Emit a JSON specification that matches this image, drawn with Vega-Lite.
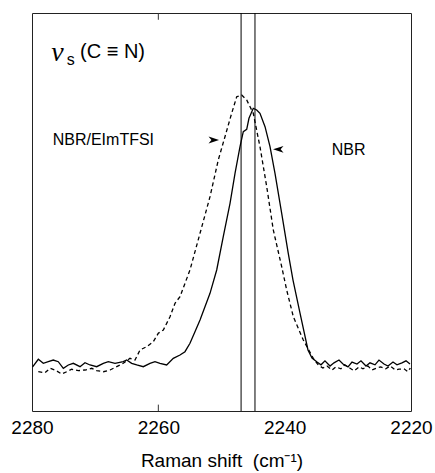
{
  "$schema": "https://vega.github.io/schema/vega-lite/v6.json",
  "width": 379,
  "height": 398,
  "autosize": {"type": "none"},
  "padding": {"left": 32, "top": 13, "right": 24, "bottom": 62},
  "config": {
    "view": {"stroke": "#222", "strokeWidth": 1},
    "font": "Liberation Sans",
    "text": {"font": "Liberation Sans", "color": "#000"}
  },
  "datasets": {
    "spectra": [
      {"v": 2279.9, "I": 11.1, "s": "NBR"},
      {"v": 2279.0, "I": 12.99, "s": "NBR"},
      {"v": 2278.21, "I": 11.98, "s": "NBR"},
      {"v": 2277.42, "I": 12.39, "s": "NBR"},
      {"v": 2276.63, "I": 12.81, "s": "NBR"},
      {"v": 2275.84, "I": 12.39, "s": "NBR"},
      {"v": 2275.04, "I": 10.73, "s": "NBR"},
      {"v": 2274.25, "I": 11.56, "s": "NBR"},
      {"v": 2273.46, "I": 11.98, "s": "NBR"},
      {"v": 2272.40, "I": 11.13, "s": "NBR"},
      {"v": 2271.61, "I": 12.14, "s": "NBR"},
      {"v": 2270.82, "I": 11.56, "s": "NBR"},
      {"v": 2269.76, "I": 11.13, "s": "NBR"},
      {"v": 2268.71, "I": 11.98, "s": "NBR"},
      {"v": 2267.92, "I": 12.39, "s": "NBR"},
      {"v": 2266.86, "I": 11.98, "s": "NBR"},
      {"v": 2265.55, "I": 12.39, "s": "NBR"},
      {"v": 2265.01, "I": 12.81, "s": "NBR"},
      {"v": 2264.22, "I": 11.98, "s": "NBR"},
      {"v": 2263.42, "I": 11.56, "s": "NBR"},
      {"v": 2262.38, "I": 11.13, "s": "NBR"},
      {"v": 2261.32, "I": 11.98, "s": "NBR"},
      {"v": 2260.53, "I": 12.39, "s": "NBR"},
      {"v": 2259.74, "I": 11.98, "s": "NBR"},
      {"v": 2258.68, "I": 11.56, "s": "NBR"},
      {"v": 2257.63, "I": 13.24, "s": "NBR"},
      {"v": 2256.57, "I": 14.07, "s": "NBR"},
      {"v": 2255.78, "I": 14.9, "s": "NBR"},
      {"v": 2254.99, "I": 17.01, "s": "NBR"},
      {"v": 2254.20, "I": 19.92, "s": "NBR"},
      {"v": 2253.40, "I": 22.86, "s": "NBR"},
      {"v": 2251.82, "I": 29.57, "s": "NBR"},
      {"v": 2250.76, "I": 35.43, "s": "NBR"},
      {"v": 2249.72, "I": 43.79, "s": "NBR"},
      {"v": 2248.65, "I": 52.19, "s": "NBR"},
      {"v": 2247.86, "I": 59.72, "s": "NBR"},
      {"v": 2247.07, "I": 66.41, "s": "NBR"},
      {"v": 2246.55, "I": 70.18, "s": "NBR"},
      {"v": 2246.01, "I": 70.78, "s": "NBR"},
      {"v": 2245.65, "I": 73.54, "s": "NBR"},
      {"v": 2244.97, "I": 76.06, "s": "NBR"},
      {"v": 2244.43, "I": 75.63, "s": "NBR"},
      {"v": 2243.91, "I": 74.8, "s": "NBR"},
      {"v": 2243.11, "I": 71.43, "s": "NBR"},
      {"v": 2242.32, "I": 66.41, "s": "NBR"},
      {"v": 2241.53, "I": 59.72, "s": "NBR"},
      {"v": 2240.47, "I": 49.67, "s": "NBR"},
      {"v": 2239.43, "I": 39.62, "s": "NBR"},
      {"v": 2238.68, "I": 32.91, "s": "NBR"},
      {"v": 2237.57, "I": 24.62, "s": "NBR"},
      {"v": 2236.31, "I": 15.33, "s": "NBR"},
      {"v": 2235.67, "I": 13.32, "s": "NBR"},
      {"v": 2234.88, "I": 12.31, "s": "NBR"},
      {"v": 2234.25, "I": 11.6, "s": "NBR"},
      {"v": 2233.62, "I": 12.6, "s": "NBR"},
      {"v": 2232.82, "I": 11.3, "s": "NBR"},
      {"v": 2232.19, "I": 12.1, "s": "NBR"},
      {"v": 2231.40, "I": 12.8, "s": "NBR"},
      {"v": 2230.77, "I": 11.8, "s": "NBR"},
      {"v": 2229.97, "I": 11.1, "s": "NBR"},
      {"v": 2229.34, "I": 12.3, "s": "NBR"},
      {"v": 2228.55, "I": 11.8, "s": "NBR"},
      {"v": 2227.92, "I": 12.6, "s": "NBR"},
      {"v": 2227.12, "I": 11.3, "s": "NBR"},
      {"v": 2226.49, "I": 12.1, "s": "NBR"},
      {"v": 2225.70, "I": 11.6, "s": "NBR"},
      {"v": 2225.07, "I": 12.8, "s": "NBR"},
      {"v": 2224.28, "I": 11.8, "s": "NBR"},
      {"v": 2223.64, "I": 11.3, "s": "NBR"},
      {"v": 2222.85, "I": 12.3, "s": "NBR"},
      {"v": 2222.22, "I": 11.6, "s": "NBR"},
      {"v": 2221.43, "I": 12.1, "s": "NBR"},
      {"v": 2220.79, "I": 12.6, "s": "NBR"},
      {"v": 2220.16, "I": 11.8, "s": "NBR"},
      {"v": 2279.0, "I": 9.87, "s": "NBR/EImTFSI"},
      {"v": 2277.94, "I": 9.62, "s": "NBR/EImTFSI"},
      {"v": 2277.15, "I": 10.73, "s": "NBR/EImTFSI"},
      {"v": 2276.36, "I": 10.3, "s": "NBR/EImTFSI"},
      {"v": 2275.30, "I": 9.3, "s": "NBR/EImTFSI"},
      {"v": 2274.51, "I": 9.87, "s": "NBR/EImTFSI"},
      {"v": 2273.72, "I": 10.48, "s": "NBR/EImTFSI"},
      {"v": 2272.67, "I": 10.13, "s": "NBR/EImTFSI"},
      {"v": 2271.61, "I": 10.3, "s": "NBR/EImTFSI"},
      {"v": 2270.55, "I": 10.73, "s": "NBR/EImTFSI"},
      {"v": 2269.76, "I": 10.13, "s": "NBR/EImTFSI"},
      {"v": 2268.71, "I": 9.87, "s": "NBR/EImTFSI"},
      {"v": 2267.65, "I": 10.3, "s": "NBR/EImTFSI"},
      {"v": 2266.59, "I": 11.13, "s": "NBR/EImTFSI"},
      {"v": 2265.55, "I": 11.98, "s": "NBR/EImTFSI"},
      {"v": 2264.49, "I": 13.24, "s": "NBR/EImTFSI"},
      {"v": 2263.69, "I": 12.81, "s": "NBR/EImTFSI"},
      {"v": 2262.90, "I": 15.33, "s": "NBR/EImTFSI"},
      {"v": 2261.84, "I": 16.16, "s": "NBR/EImTFSI"},
      {"v": 2260.80, "I": 17.41, "s": "NBR/EImTFSI"},
      {"v": 2260.01, "I": 19.52, "s": "NBR/EImTFSI"},
      {"v": 2259.21, "I": 20.35, "s": "NBR/EImTFSI"},
      {"v": 2258.15, "I": 23.69, "s": "NBR/EImTFSI"},
      {"v": 2257.36, "I": 27.06, "s": "NBR/EImTFSI"},
      {"v": 2256.57, "I": 28.72, "s": "NBR/EImTFSI"},
      {"v": 2254.99, "I": 35.43, "s": "NBR/EImTFSI"},
      {"v": 2253.40, "I": 44.65, "s": "NBR/EImTFSI"},
      {"v": 2251.82, "I": 53.84, "s": "NBR/EImTFSI"},
      {"v": 2250.51, "I": 63.07, "s": "NBR/EImTFSI"},
      {"v": 2249.45, "I": 68.92, "s": "NBR/EImTFSI"},
      {"v": 2248.39, "I": 74.8, "s": "NBR/EImTFSI"},
      {"v": 2247.59, "I": 78.97, "s": "NBR/EImTFSI"},
      {"v": 2246.80, "I": 79.4, "s": "NBR/EImTFSI"},
      {"v": 2246.01, "I": 78.14, "s": "NBR/EImTFSI"},
      {"v": 2244.97, "I": 74.8, "s": "NBR/EImTFSI"},
      {"v": 2243.91, "I": 66.41, "s": "NBR/EImTFSI"},
      {"v": 2242.84, "I": 56.36, "s": "NBR/EImTFSI"},
      {"v": 2241.80, "I": 45.48, "s": "NBR/EImTFSI"},
      {"v": 2240.47, "I": 36.26, "s": "NBR/EImTFSI"},
      {"v": 2239.68, "I": 30.4, "s": "NBR/EImTFSI"},
      {"v": 2238.63, "I": 23.69, "s": "NBR/EImTFSI"},
      {"v": 2237.05, "I": 17.84, "s": "NBR/EImTFSI"},
      {"v": 2235.47, "I": 13.24, "s": "NBR/EImTFSI"},
      {"v": 2234.68, "I": 11.56, "s": "NBR/EImTFSI"},
      {"v": 2233.95, "I": 10.8, "s": "NBR/EImTFSI"},
      {"v": 2233.3, "I": 11.3, "s": "NBR/EImTFSI"},
      {"v": 2232.5, "I": 10.3, "s": "NBR/EImTFSI"},
      {"v": 2231.9, "I": 11.1, "s": "NBR/EImTFSI"},
      {"v": 2231.1, "I": 10.6, "s": "NBR/EImTFSI"},
      {"v": 2230.5, "I": 11.6, "s": "NBR/EImTFSI"},
      {"v": 2229.7, "I": 10.8, "s": "NBR/EImTFSI"},
      {"v": 2229.0, "I": 10.1, "s": "NBR/EImTFSI"},
      {"v": 2228.2, "I": 11.1, "s": "NBR/EImTFSI"},
      {"v": 2227.6, "I": 10.6, "s": "NBR/EImTFSI"},
      {"v": 2226.8, "I": 11.3, "s": "NBR/EImTFSI"},
      {"v": 2226.2, "I": 10.3, "s": "NBR/EImTFSI"},
      {"v": 2225.4, "I": 10.8, "s": "NBR/EImTFSI"},
      {"v": 2224.8, "I": 11.1, "s": "NBR/EImTFSI"},
      {"v": 2224.0, "I": 10.6, "s": "NBR/EImTFSI"},
      {"v": 2223.3, "I": 11.3, "s": "NBR/EImTFSI"},
      {"v": 2222.5, "I": 10.3, "s": "NBR/EImTFSI"},
      {"v": 2221.9, "I": 10.5, "s": "NBR/EImTFSI"},
      {"v": 2221.1, "I": 10.6, "s": "NBR/EImTFSI"},
      {"v": 2220.5, "I": 9.9, "s": "NBR/EImTFSI"},
      {"v": 2220.1, "I": 10.8, "s": "NBR/EImTFSI"}
    ],
    "peaks": [
      {"v": 2246.9, "label": "NBR/EImTFSI"},
      {"v": 2244.7, "label": "NBR"}
    ],
    "ticks": [
      {"v": 2260, "y1": 0, "y2": 1.6},
      {"v": 2260, "y1": 98.3, "y2": 100}
    ],
    "arrows": [
      {"v": 2251.22, "I": 68.09, "dir": "right"},
      {"v": 2241.01, "I": 65.75, "dir": "left"}
    ],
    "labels": [
      {"v": 2276.72, "I": 66.83, "text": "NBR/EImTFSI"},
      {"v": 2232.55, "I": 64.32, "text": "NBR"}
    ],
    "bond": [{"v": 2272.40, "I": 88.62, "text": "(C ≡ N)"}],
    "nu": [{"v": 2276.94, "I": 88.02, "text": "ν"}],
    "sub": [{"v": 2274.51, "I": 87.0, "text": "s"}]
  },
  "encoding": {
    "x": {
      "field": "v",
      "type": "quantitative",
      "scale": {"domain": [2220, 2280], "reverse": true, "nice": false, "zero": false},
      "axis": {
        "values": [2280, 2260, 2240, 2220],
        "format": "d",
        "ticks": false,
        "domain": false,
        "grid": false,
        "labelFontSize": 19,
        "labelColor": "#000",
        "labelPadding": 7,
        "labelFlush": false,
        "title": "Raman shift\u00a0 (cm⁻¹)",
        "titleFontSize": 19,
        "titleFontWeight": "normal",
        "titleColor": "#000",
        "titlePadding": 14
      }
    }
  },
  "layer": [
    {
      "data": {"name": "peaks"},
      "mark": {"type": "rule", "color": "#000", "strokeWidth": 1},
      "encoding": {}
    },
    {
      "data": {"name": "ticks"},
      "mark": {"type": "rule", "color": "#333", "strokeWidth": 1},
      "encoding": {
        "y": {"field": "y1", "type": "quantitative", "scale": {"domain": [0, 100], "nice": false}, "axis": null},
        "y2": {"field": "y2"}
      }
    },
    {
      "data": {"name": "spectra"},
      "transform": [{"filter": "datum.s === 'NBR'"}],
      "mark": {"type": "line", "color": "#000", "strokeWidth": 1.3},
      "encoding": {
        "y": {"field": "I", "type": "quantitative", "scale": {"domain": [0, 100], "nice": false}, "axis": null}
      }
    },
    {
      "data": {"name": "spectra"},
      "transform": [{"filter": "datum.s === 'NBR/EImTFSI'"}],
      "mark": {"type": "line", "color": "#000", "strokeWidth": 1.3, "strokeDash": [4, 3]},
      "encoding": {
        "y": {"field": "I", "type": "quantitative", "scale": {"domain": [0, 100], "nice": false}, "axis": null}
      }
    },
    {
      "data": {"name": "arrows"},
      "transform": [{"filter": "datum.dir === 'right'"}],
      "mark": {"type": "point", "shape": "M -1 -0.65 L 1 0 L -1 0.65 L -0.45 0 Z", "filled": true, "color": "#000", "size": 110, "opacity": 1},
      "encoding": {
        "y": {"field": "I", "type": "quantitative", "scale": {"domain": [0, 100], "nice": false}, "axis": null}
      }
    },
    {
      "data": {"name": "arrows"},
      "transform": [{"filter": "datum.dir === 'left'"}],
      "mark": {"type": "point", "shape": "M 1 -0.65 L -1 0 L 1 0.65 L 0.45 0 Z", "filled": true, "color": "#000", "size": 110, "opacity": 1},
      "encoding": {
        "y": {"field": "I", "type": "quantitative", "scale": {"domain": [0, 100], "nice": false}, "axis": null}
      }
    },
    {
      "data": {"name": "labels"},
      "mark": {"type": "text", "align": "left", "baseline": "alphabetic", "fontSize": 16, "font": "Liberation Sans"},
      "encoding": {
        "y": {"field": "I", "type": "quantitative", "scale": {"domain": [0, 100], "nice": false}, "axis": null},
        "text": {"field": "text"}
      }
    },
    {
      "data": {"name": "bond"},
      "mark": {"type": "text", "align": "left", "baseline": "alphabetic", "fontSize": 20, "font": "Liberation Sans"},
      "encoding": {
        "y": {"field": "I", "type": "quantitative", "scale": {"domain": [0, 100], "nice": false}, "axis": null},
        "text": {"field": "text"}
      }
    },
    {
      "data": {"name": "nu"},
      "mark": {"type": "text", "align": "left", "baseline": "alphabetic", "fontSize": 28, "font": "Liberation Serif", "fontStyle": "italic"},
      "encoding": {
        "y": {"field": "I", "type": "quantitative", "scale": {"domain": [0, 100], "nice": false}, "axis": null},
        "text": {"field": "text"}
      }
    },
    {
      "data": {"name": "sub"},
      "mark": {"type": "text", "align": "left", "baseline": "alphabetic", "fontSize": 16, "font": "Liberation Sans"},
      "encoding": {
        "y": {"field": "I", "type": "quantitative", "scale": {"domain": [0, 100], "nice": false}, "axis": null},
        "text": {"field": "text"}
      }
    }
  ]
}
